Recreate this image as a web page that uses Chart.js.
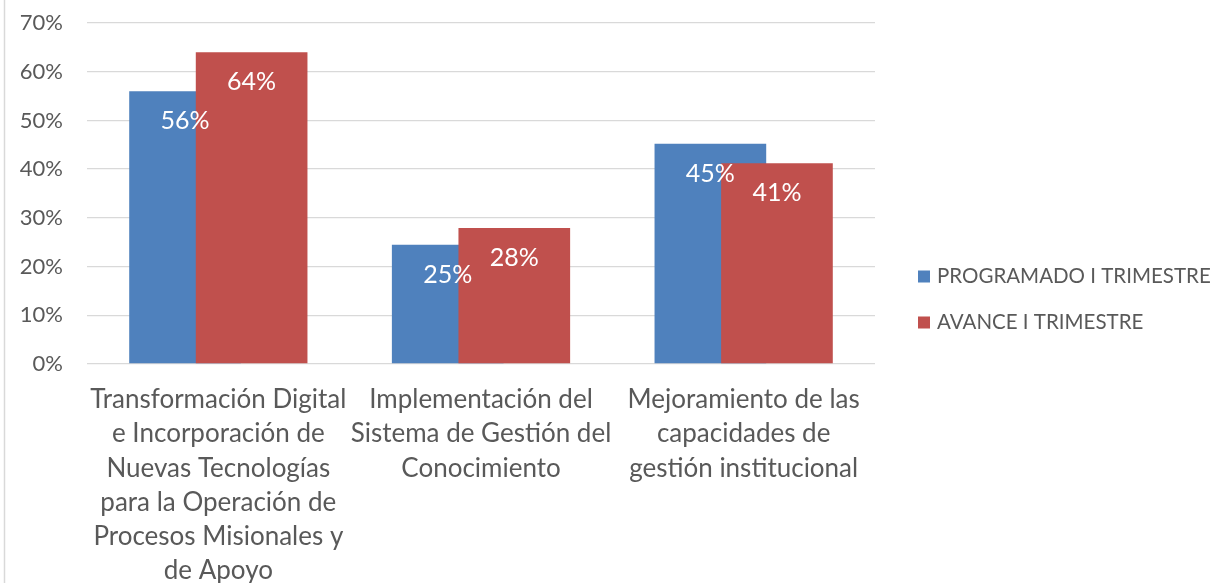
<!DOCTYPE html>
<html>
<head>
  <meta charset="utf-8">
  <style>
    body { margin: 0; background: #ffffff; }
    #wrap { position: relative; width: 1213px; height: 583px; }
  </style>
  <script src="https://cdn.jsdelivr.net/npm/chart.js"></script>
</head>
<body>
  <div id="wrap"><canvas id="myChart" width="1213" height="583"></canvas></div>
  <script>
    // categories (already wrapped the way the original axis shows them)
    const categories = [
      ['Transformación Digital', 'e Incorporación de', 'Nuevas Tecnologías', 'para la Operación de', 'Procesos Misionales y', 'de Apoyo'],
      ['Implementación del', 'Sistema de Gestión del', 'Conocimiento'],
      ['Mejoramiento de las', 'capacidades de', 'gestión institucional']
    ];
    const seriesNames = ['PROGRAMADO I TRIMESTRE', 'AVANCE I TRIMESTRE'];
    const programado = [56, 24.5, 45.2];
    const avance = [64, 27.9, 41.2];
    const yTicks = [0, 10, 20, 30, 40, 50, 60, 70];

    const FONT = 'Lato, "Open Sans", sans-serif';
    const TEXT = '#595959';
    const colors = ['#4F81BD', '#C0504D'];

    // Excel draws the 2nd series over the 1st one when bars overlap,
    // Chart.js does the reverse, so hold the red one back and draw it last.
    const overlapOrder = {
      id: 'overlapOrder',
      beforeDatasetDraw(chart, args) {
        if (args.index === 1 && !chart._drawingLate) return false;
      },
      afterDatasetsDraw(chart) {
        chart._drawingLate = true;
        chart.getDatasetMeta(1).controller.draw();
        chart._drawingLate = false;
      }
    };

    // white value labels, inside the top of each bar
    const valueLabels = {
      id: 'valueLabels',
      afterDatasetsDraw(chart) {
        const ctx = chart.ctx;
        ctx.save();
        ctx.fillStyle = '#ffffff';
        ctx.font = '25px ' + FONT;
        ctx.textAlign = 'center';
        ctx.textBaseline = 'middle';
        chart.data.datasets.forEach((ds, i) => {
          chart.getDatasetMeta(i).data.forEach((bar, j) => {
            ctx.fillText(Math.round(ds.data[j]) + '%', bar.x, bar.y + 30);
          });
        });
        ctx.restore();
      }
    };

    // legend at the right + the thin frame line on the left
    const sideLegend = {
      id: 'sideLegend',
      afterDraw(chart) {
        const ctx = chart.ctx;
        const area = chart.chartArea;
        ctx.save();
        ctx.strokeStyle = '#d9d9d9';
        ctx.lineWidth = 1.5;
        ctx.beginPath();
        ctx.moveTo(4.5, 0);
        ctx.lineTo(4.5, chart.height);
        ctx.stroke();

        ctx.font = '20.5px ' + FONT;
        ctx.textBaseline = 'middle';
        const x = area.right + 43;
        const mid = chart.height / 2 + 8;
        chart.data.datasets.forEach((ds, i) => {
          const y = mid + (i - 0.5) * 46;
          ctx.fillStyle = ds.backgroundColor;
          ctx.fillRect(x, y - 6, 12, 12);
          ctx.fillStyle = TEXT;
          ctx.fillText(ds.label, x + 19, y);
        });
        ctx.restore();
      }
    };

    const ctx = document.getElementById('myChart').getContext('2d');
    const myChart = new Chart(ctx, {
      type: 'bar',
      data: {
        labels: categories,
        datasets: [
          { label: seriesNames[0], data: programado, backgroundColor: colors[0] },
          { label: seriesNames[1], data: avance, backgroundColor: colors[1] }
        ]
      },
      options: {
        responsive: false,
        animation: false,
        categoryPercentage: 0.507,
        barPercentage: 1.677,
        layout: { padding: { top: 23, right: 338, left: 0, bottom: 0 } },
        plugins: {
          legend: { display: false },
          tooltip: { enabled: false }
        },
        scales: {
          x: {
            grid: { display: false, drawTicks: false, tickLength: 0 },
            border: { display: false },
            ticks: {
              color: TEXT,
              padding: 19,
              maxRotation: 0,
              autoSkip: false,
              font: { family: FONT, size: 26, lineHeight: 1.31 }
            },
            afterFit(scale) { scale.height = 219; }
          },
          y: {
            min: 0,
            max: 70,
            afterBuildTicks(scale) { scale.ticks = yTicks.map(v => ({ value: v })); },
            grid: { color: '#d9d9d9', lineWidth: 1.3, drawTicks: false, tickLength: 0 },
            border: { display: false },
            ticks: {
              color: TEXT,
              padding: 24,
              font: { family: FONT, size: 22 },
              callback: v => v + '%'
            },
            afterFit(scale) {
              scale.width = 87;
              // tick padding is only meant sideways here
              scale.paddingTop = 0;
              scale.paddingBottom = 0;
            }
          }
        }
      },
      plugins: [overlapOrder, valueLabels, sideLegend]
    });
  </script>
</body>
</html>
